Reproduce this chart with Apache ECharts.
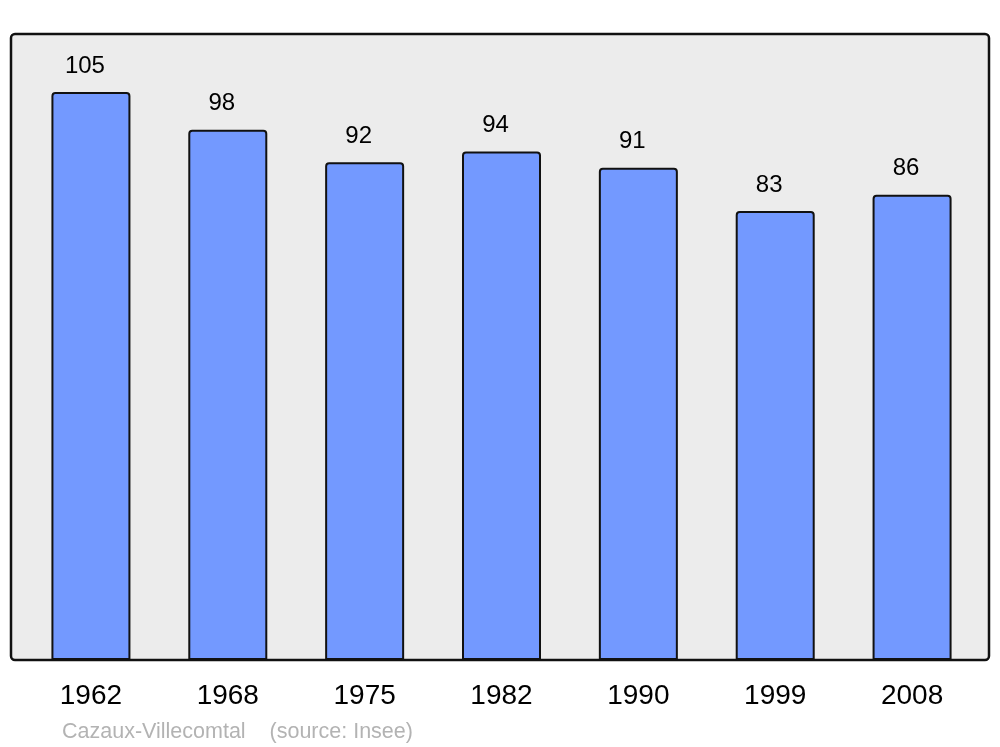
<!DOCTYPE html>
<html>
<head>
<meta charset="utf-8">
<script src="https://cdn.jsdelivr.net/npm/echarts@6/dist/echarts.min.js"></script>
<style>
  html, body { margin: 0; padding: 0; background: #fff; }
  #chart { width: 1000px; height: 747px; }
</style>
</head>
<body>
<div id="chart"></div>
<script>
const years = ["1962", "1968", "1975", "1982", "1990", "1999", "2008"];
const population = [105, 98, 92, 94, 91, 83, 86];
const sourceText = "Cazaux-Villecomtal    (source: Insee)";

const chart = echarts.init(document.getElementById("chart"));
chart.setOption({
  animation: false,
  title: {
    text: sourceText,
    left: 57,
    top: 716,
    textStyle: { color: "#b3b3b3", fontSize: 21.5, fontWeight: "normal", fontFamily: "Liberation Sans" },
  },
  // grey frame behind the bars
  graphic: [
    {
      type: "rect",
      z: -10,
      shape: { x: 11, y: 34, width: 978, height: 626, r: 4 },
      style: { fill: "#ececec", stroke: "#111", lineWidth: 2.5 },
    },
  ],
  grid: { left: 22.5, top: 34, width: 958, height: 626 },
  xAxis: {
    type: "category",
    data: years,
    axisLine: { show: false },
    axisTick: { show: false },
    axisLabel: { color: "#000", fontSize: 28, margin: 22, fontFamily: "Liberation Sans" },
  },
  yAxis: { type: "value", min: 0, max: 115.7, show: false },
  series: [
    {
      type: "bar",
      data: population,
      barWidth: 79,
      itemStyle: {
        color: "#7399ff",
        borderColor: "#111",
        borderWidth: 2,
        borderRadius: [3, 3, 0, 0],
      },
      label: {
        show: true,
        position: "top",
        distance: 14,
        offset: [-6, 0],
        color: "#000",
        fontSize: 24,
        fontFamily: "Liberation Sans",
      },
    },
  ],
});
</script>
</body>
</html>
